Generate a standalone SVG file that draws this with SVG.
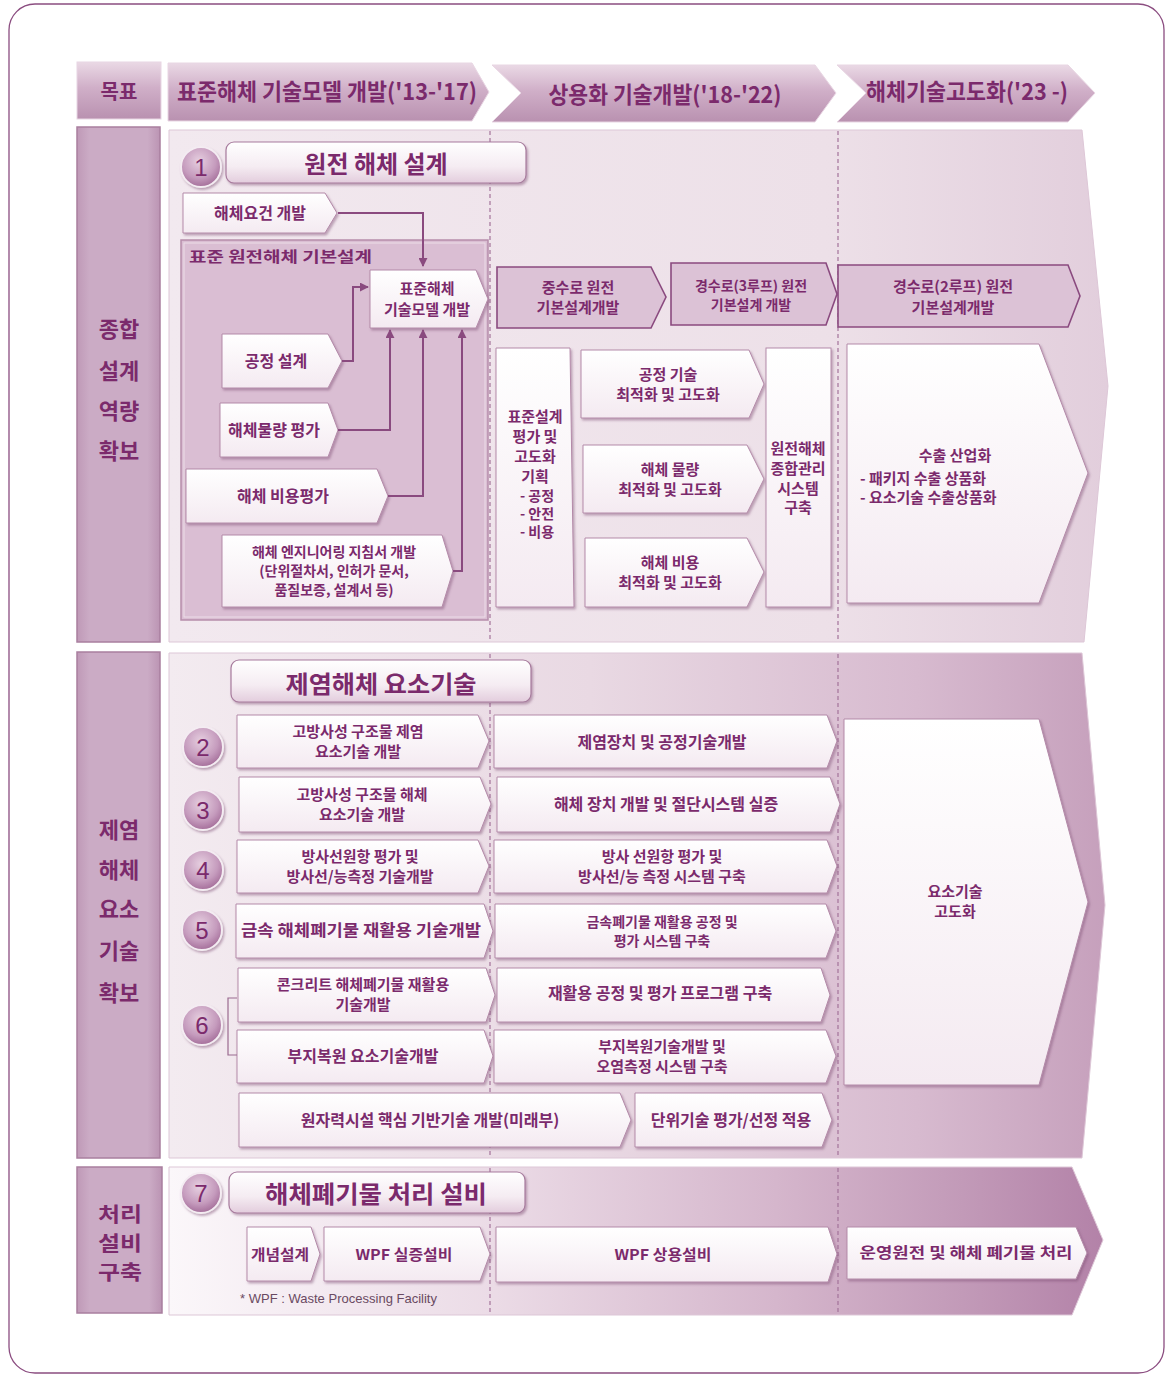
<svg xmlns="http://www.w3.org/2000/svg" width="1168" height="1375" viewBox="0 0 1168 1375">
<defs>
<style>
text{font-family:"Noto Sans CJK KR","Noto Sans",sans-serif;font-weight:700;fill:#7b2a6c;text-anchor:middle}
.t16{font-size:16px}
.t15{font-size:15px}
.t14{font-size:14px}
.lab{font-size:22px}
.hd{font-size:23px}
.ttl{font-size:24px}
.num{font-size:24px;font-weight:400;font-family:"Liberation Sans",sans-serif;fill:#7b2a6c}
.node{fill:url(#ng);stroke:#b48aa9;stroke-width:1;filter:url(#sh)}
.pnode{fill:#dcc2d6;stroke:#8a4a7f;stroke-width:1.6}
.lbl{fill:url(#lg);stroke:#a97f9f;stroke-width:1.5}
.hdr{fill:url(#hg);stroke:#e8d6e3;stroke-width:1}
.dash{stroke:#a3739a;stroke-width:1.2;stroke-dasharray:4 3;fill:none}
.con{stroke:#8a4a7f;stroke-width:2;fill:none}
.circ{fill:url(#cg);stroke:#f4ecf2;stroke-width:2;filter:url(#sh)}
.tbox{fill:url(#tg);stroke:#a77b9d;stroke-width:1.2;filter:url(#sh)}
</style>
<linearGradient id="ng" x1="0" y1="0" x2="0" y2="1"><stop offset="0" stop-color="#ffffff"/><stop offset="1" stop-color="#f4eaf1"/></linearGradient>
<linearGradient id="tg" x1="0" y1="0" x2="0" y2="1"><stop offset="0" stop-color="#ffffff"/><stop offset="0.6" stop-color="#f5ecf2"/><stop offset="1" stop-color="#e3cddd"/></linearGradient>
<linearGradient id="hg" x1="0" y1="0" x2="0" y2="1"><stop offset="0" stop-color="#ead9e5"/><stop offset="0.45" stop-color="#d0afc8"/><stop offset="1" stop-color="#b991b0"/></linearGradient>
<linearGradient id="lg" x1="0" y1="0" x2="1" y2="0"><stop offset="0" stop-color="#bf99b7"/><stop offset="0.15" stop-color="#cbabc5"/><stop offset="0.85" stop-color="#cbabc5"/><stop offset="1" stop-color="#bb94b3"/></linearGradient>
<radialGradient id="cg" cx="0.45" cy="0.35" r="0.7"><stop offset="0" stop-color="#e6cfe0"/><stop offset="0.6" stop-color="#c59bbd"/><stop offset="1" stop-color="#9e6593"/></radialGradient>
<linearGradient id="p1" gradientUnits="userSpaceOnUse" x1="169" y1="0" x2="1108" y2="0"><stop offset="0" stop-color="#f2e9ef"/><stop offset="0.7" stop-color="#ede0e8"/><stop offset="1" stop-color="#e2cedc"/></linearGradient>
<linearGradient id="p2" gradientUnits="userSpaceOnUse" x1="169" y1="0" x2="1105" y2="0"><stop offset="0" stop-color="#f3ebf0"/><stop offset="0.45" stop-color="#e9d9e3"/><stop offset="0.8" stop-color="#d7bacf"/><stop offset="1" stop-color="#c6a0bc"/></linearGradient>
<linearGradient id="p3" gradientUnits="userSpaceOnUse" x1="169" y1="0" x2="1103" y2="0"><stop offset="0" stop-color="#fbf7fa"/><stop offset="0.35" stop-color="#ebdbe6"/><stop offset="0.65" stop-color="#d5b6cc"/><stop offset="0.85" stop-color="#c29ab8"/><stop offset="1" stop-color="#b382a8"/></linearGradient>
<filter id="sh" x="-10%" y="-10%" width="130%" height="140%"><feDropShadow dx="1.5" dy="2" stdDeviation="1.2" flood-color="#7d4a72" flood-opacity="0.45"/></filter>
<marker id="ah" viewBox="0 0 10 10" refX="9" refY="5" markerWidth="4.5" markerHeight="4.5" orient="auto"><path d="M0,0 L10,5 L0,10 z" fill="#8a4a7f"/></marker>
</defs>

<rect x="9" y="4" width="1155" height="1369" rx="26" fill="#ffffff" stroke="#8b4d80" stroke-width="1.3"/>

<!-- header -->
<g id="goal-label"><rect class="hdr" x="77" y="62" width="84" height="57"/><text class="lab" x="119" y="99" style="font-size:20px">목표</text></g>
<g id="phase1"><polygon class="hdr" points="168,63 472,63 489,92 472,121 168,121"/><text class="hd" x="327" y="100" textLength="300" lengthAdjust="spacingAndGlyphs">표준해체 기술모델 개발('13-'17)</text></g>
<g id="phase2"><polygon class="hdr" points="492,65 815,65 836,93 815,122 492,122 521,93"/><text class="hd" x="665" y="103" textLength="233" lengthAdjust="spacingAndGlyphs">상용화 기술개발('18-'22)</text></g>
<g id="phase3"><polygon class="hdr" points="837,65 1068,65 1095,93 1068,122 837,122 866,93"/><text class="hd" x="967" y="100" textLength="202" lengthAdjust="spacingAndGlyphs">해체기술고도화('23 -)</text></g>

<!-- section 1 -->
<g id="sec1-label"><rect class="lbl" x="77" y="127" width="83" height="515"/>
<text class="lab" x="119" y="337">종합</text><text class="lab" x="119" y="379">설계</text><text class="lab" x="119" y="419">역량</text><text class="lab" x="119" y="459">확보</text></g>
<g id="sec1-panel"><polygon points="169,130 1082,130 1108,386 1084,642 169,642" fill="url(#p1)" stroke="#ddc7d7" stroke-width="1"/>
<line class="dash" x1="490" y1="131" x2="490" y2="641"/><line class="dash" x1="838" y1="131" x2="838" y2="641"/></g>
<g id="n1-circle"><circle class="circ" cx="201" cy="167" r="20"/><text class="num" x="201" y="176">1</text></g>
<g id="n1-title"><rect class="tbox" x="226" y="142" width="300" height="41" rx="8"/><text class="ttl" x="376" y="173">원전 해체 설계</text></g>
<g id="n-req"><polygon class="node" points="183,193 325,193 337,213 325,233 183,233"/><text class="t16" x="260" y="219">해체요건 개발</text></g>
<g id="g-basic"><rect x="181" y="240" width="307" height="380" fill="#dabed3" stroke="#b68dab" stroke-width="1.5"/><rect x="184" y="243" width="301" height="374" fill="none" stroke="#ecdde8" stroke-width="1"/>
<text class="t15" x="189" y="262" style="text-anchor:start" textLength="183" lengthAdjust="spacingAndGlyphs">표준 원전해체 기본설계</text></g>
<g id="n-model"><polygon class="node" points="370,270 476,270 488,299 476,328 370,328"/><text class="t15" x="427" y="294">표준해체</text><text class="t15" x="427" y="315">기술모델 개발</text></g>
<g id="n-proc"><polygon class="node" points="222,334 328,334 342,361 328,388 222,388"/><text class="t16" x="276" y="367">공정 설계</text></g>
<g id="n-qty"><polygon class="node" points="220,403 328,403 338,430 328,457 220,457"/><text class="t16" x="274" y="436">해체물량 평가</text></g>
<g id="n-cost"><polygon class="node" points="186,469 377,469 388,496 377,523 186,523"/><text class="t16" x="283" y="502">해체 비용평가</text></g>
<g id="n-eng"><polygon class="node" points="222,535 442,535 453,571 442,607 222,607"/><text class="t14" x="334" y="557">해체 엔지니어링 지침서 개발</text><text class="t14" x="334" y="576">(단위절차서, 인허가 문서,</text><text class="t14" x="334" y="595">품질보증, 설계서 등)</text></g>

<g id="n-phwr"><polygon class="pnode" points="497,267 651,267 666,297 651,328 497,328"/><text class="t15" x="578" y="293">중수로 원전</text><text class="t15" x="578" y="313">기본설계개발</text></g>
<g id="n-pwr3"><polygon class="pnode" points="671,263 826,263 837,294 826,325 671,325"/><text class="t14" x="751" y="291">경수로(3루프) 원전</text><text class="t14" x="751" y="310">기본설계 개발</text></g>
<g id="n-pwr2"><polygon class="pnode" points="838,265 1068,265 1080,296 1068,327 838,327"/><text class="t15" x="953" y="292">경수로(2루프) 원전</text><text class="t15" x="953" y="313">기본설계개발</text></g>
<g id="n-plan"><polygon class="node" points="496,348 570,348 574,607 496,607"/>
<text class="t15" x="535" y="422">표준설계</text><text class="t15" x="535" y="442">평가 및</text><text class="t15" x="535" y="462">고도화</text><text class="t15" x="535" y="482">기획</text>
<text class="t14" x="537" y="501">- 공정</text><text class="t14" x="537" y="519">- 안전</text><text class="t14" x="537" y="537">- 비용</text></g>
<g id="n-opt1"><polygon class="node" points="581,350 749,350 764,384 749,418 581,418"/><text class="t15" x="668" y="380">공정 기술</text><text class="t15" x="668" y="400">최적화 및 고도화</text></g>
<g id="n-opt2"><polygon class="node" points="583,445 747,445 764,479 747,513 583,513"/><text class="t15" x="670" y="475">해체 물량</text><text class="t15" x="670" y="495">최적화 및 고도화</text></g>
<g id="n-opt3"><polygon class="node" points="585,538 747,538 764,572 747,607 585,607"/><text class="t15" x="670" y="568">해체 비용</text><text class="t15" x="670" y="588">최적화 및 고도화</text></g>
<g id="n-mgmt"><rect class="node" x="766" y="348" width="65" height="259"/><text class="t15" x="798" y="454">원전해체</text><text class="t15" x="798" y="474">종합관리</text><text class="t15" x="798" y="494">시스템</text><text class="t15" x="798" y="513">구축</text></g>
<g id="n-export"><polygon class="node" points="847,344 1039,344 1088,473 1039,603 847,603"/><text class="t15" x="955" y="461">수출 산업화</text>
<text class="t15" x="860" y="484" style="text-anchor:start">- 패키지 수출 상품화</text><text class="t15" x="860" y="503" style="text-anchor:start">- 요소기술 수출상품화</text></g>

<!-- section 2 -->
<g id="sec2-label"><rect class="lbl" x="77" y="652" width="83" height="506"/>
<text class="lab" x="119" y="838">제염</text><text class="lab" x="119" y="878">해체</text><text class="lab" x="119" y="917">요소</text><text class="lab" x="119" y="959">기술</text><text class="lab" x="119" y="1001">확보</text></g>
<g id="sec2-panel"><polygon points="169,653 1082,653 1105,905 1082,1158 169,1158" fill="url(#p2)" stroke="#ddc7d7" stroke-width="1"/>
<line class="dash" x1="490" y1="654" x2="490" y2="1157"/><line class="dash" x1="838" y1="654" x2="838" y2="1157"/></g>
<g id="n2-title"><rect class="tbox" x="231" y="660" width="300" height="42" rx="8"/><text class="ttl" x="381" y="693" textLength="191" lengthAdjust="spacingAndGlyphs">제염해체 요소기술</text></g>
<g id="c2"><circle class="circ" cx="203" cy="747" r="20"/><text class="num" x="203" y="756">2</text></g>
<g id="c3"><circle class="circ" cx="203" cy="810" r="20"/><text class="num" x="203" y="819">3</text></g>
<g id="c4"><circle class="circ" cx="203" cy="870" r="20"/><text class="num" x="203" y="879">4</text></g>
<g id="c5"><circle class="circ" cx="202" cy="930" r="20"/><text class="num" x="202" y="939">5</text></g>
<g id="c6"><circle class="circ" cx="202" cy="1025" r="20"/><text class="num" x="202" y="1034">6</text></g>
<g id="n2a"><polygon class="node" points="237,715 478,715 489,741 478,768 237,768"/><text class="t15" x="358" y="737">고방사성 구조물 제염</text><text class="t15" x="358" y="757">요소기술  개발</text></g>
<g id="n3a"><polygon class="node" points="239,777 480,777 491,804 480,832 239,832"/><text class="t15" x="362" y="800">고방사성 구조물 해체</text><text class="t15" x="362" y="820">요소기술  개발</text></g>
<g id="n4a"><polygon class="node" points="237,840 478,840 489,866 478,893 237,893"/><text class="t15" x="360" y="862">방사선원항 평가 및</text><text class="t15" x="360" y="882">방사선/능측정 기술개발</text></g>
<g id="n5a"><polygon class="node" points="236,904 484,904 493,931 484,958 236,958"/><text class="t16" x="361" y="936" textLength="240" lengthAdjust="spacingAndGlyphs">금속 해체폐기물 재활용 기술개발</text></g>
<g id="n6a"><polygon class="node" points="238,968 486,968 495,995 486,1022 238,1022"/><text class="t15" x="363" y="990">콘크리트 해체폐기물 재활용</text><text class="t15" x="363" y="1010">기술개발</text></g>
<g id="n6b"><polygon class="node" points="237,1030 484,1030 493,1056 484,1083 237,1083"/><text class="t16" x="363" y="1062">부지복원 요소기술개발</text></g>
<g id="n-base"><polygon class="node" points="239,1093 620,1093 631,1120 620,1147 239,1147"/><text class="t16" x="430" y="1126">원자력시설 핵심 기반기술 개발(미래부)</text></g>
<g id="n2b"><polygon class="node" points="494,715 827,715 837,741 827,768 494,768"/><text class="t16" x="662" y="748">제염장치 및  공정기술개발</text></g>
<g id="n3b"><polygon class="node" points="497,777 830,777 840,804 830,832 497,832"/><text class="t16" x="666" y="810">해체 장치  개발 및  절단시스템 실증</text></g>
<g id="n4b"><polygon class="node" points="494,840 827,840 837,866 827,893 494,893"/><text class="t15" x="662" y="862">방사 선원항 평가 및</text><text class="t15" x="662" y="882">방사선/능 측정 시스템 구축</text></g>
<g id="n5b"><polygon class="node" points="495,904 826,904 836,931 826,958 495,958"/><text class="t14" x="662" y="927">금속폐기물 재활용 공정  및</text><text class="t14" x="662" y="946">평가  시스템 구축</text></g>
<g id="n6ab"><polygon class="node" points="497,968 821,968 830,995 821,1022 497,1022"/><text class="t16" x="660" y="999">재활용  공정 및 평가 프로그램  구축</text></g>
<g id="n6bb"><polygon class="node" points="494,1030 826,1030 836,1056 826,1083 494,1083"/><text class="t15" x="662" y="1052">부지복원기술개발 및</text><text class="t15" x="662" y="1072">오염측정 시스템 구축</text></g>
<g id="n-unit"><polygon class="node" points="635,1093 822,1093 832,1120 822,1147 635,1147"/><text class="t16" x="731" y="1126">단위기술 평가/선정 적용</text></g>
<g id="n-adv"><polygon class="node" points="844,719 1039,719 1088,902 1039,1085 844,1085"/><text class="t15" x="955" y="897">요소기술</text><text class="t15" x="955" y="917">고도화</text></g>

<!-- section 3 -->
<g id="sec3-label"><rect class="lbl" x="77" y="1167" width="85" height="146"/>
<text class="lab" x="120" y="1222" style="font-size:20px" textLength="44" lengthAdjust="spacingAndGlyphs">처리</text><text class="lab" x="120" y="1251" style="font-size:20px" textLength="44" lengthAdjust="spacingAndGlyphs">설비</text><text class="lab" x="120" y="1280" style="font-size:20px" textLength="44" lengthAdjust="spacingAndGlyphs">구축</text></g>
<g id="sec3-panel"><polygon points="169,1167 1072,1167 1103,1240 1072,1315 169,1315" fill="url(#p3)" stroke="#ddc7d7" stroke-width="1"/>
<line class="dash" x1="490" y1="1168" x2="490" y2="1314"/><line class="dash" x1="838" y1="1168" x2="838" y2="1314"/></g>
<g id="c7"><circle class="circ" cx="201" cy="1193" r="20"/><text class="num" x="201" y="1202">7</text></g>
<g id="n7-title"><rect class="tbox" x="229" y="1172" width="296" height="41" rx="8"/><text class="ttl" x="376" y="1203" textLength="222" lengthAdjust="spacingAndGlyphs">해체폐기물 처리 설비</text></g>
<g id="n-concept"><polygon class="node" points="247,1227 311,1227 320,1254 311,1281 247,1281"/><text class="t15" x="280" y="1260" textLength="58" lengthAdjust="spacingAndGlyphs">개념설계</text></g>
<g id="n-wpf1"><polygon class="node" points="324,1227 480,1227 490,1254 480,1281 324,1281"/><text class="t15" x="404" y="1260" textLength="97" lengthAdjust="spacingAndGlyphs">WPF 실증설비</text></g>
<g id="n-wpf2"><polygon class="node" points="496,1227 828,1227 837,1254 828,1282 496,1282"/><text class="t15" x="663" y="1260" textLength="97" lengthAdjust="spacingAndGlyphs">WPF 상용설비</text></g>
<g id="n-ops"><polygon class="node" points="847,1227 1076,1227 1087,1253 1076,1279 847,1279"/><text class="t15" x="966" y="1258" textLength="213" lengthAdjust="spacingAndGlyphs">운영원전 및 해체  폐기물 처리</text></g>
<text x="240" y="1303" style="text-anchor:start;font-family:'Liberation Sans',sans-serif;font-weight:400;font-size:13px;fill:#6a4a62" textLength="197" lengthAdjust="spacingAndGlyphs">* WPF : Waste Processing Facility</text>

<!-- connectors -->
<g id="connectors">
<polyline class="con" points="338,213 423,213 423,266" marker-end="url(#ah)"/>
<polyline class="con" points="342,361 353,361 353,287 368,287" marker-end="url(#ah)"/>
<polyline class="con" points="338,430 390,430 390,330" marker-end="url(#ah)"/>
<polyline class="con" points="388,496 423,496 423,330" marker-end="url(#ah)"/>
<polyline class="con" points="453,571 462,571 462,330" marker-end="url(#ah)"/>
<path d="M237,998 H228 V1055 H237" fill="none" stroke="#9a6a8f" stroke-width="1.2"/>
</g>
</svg>
